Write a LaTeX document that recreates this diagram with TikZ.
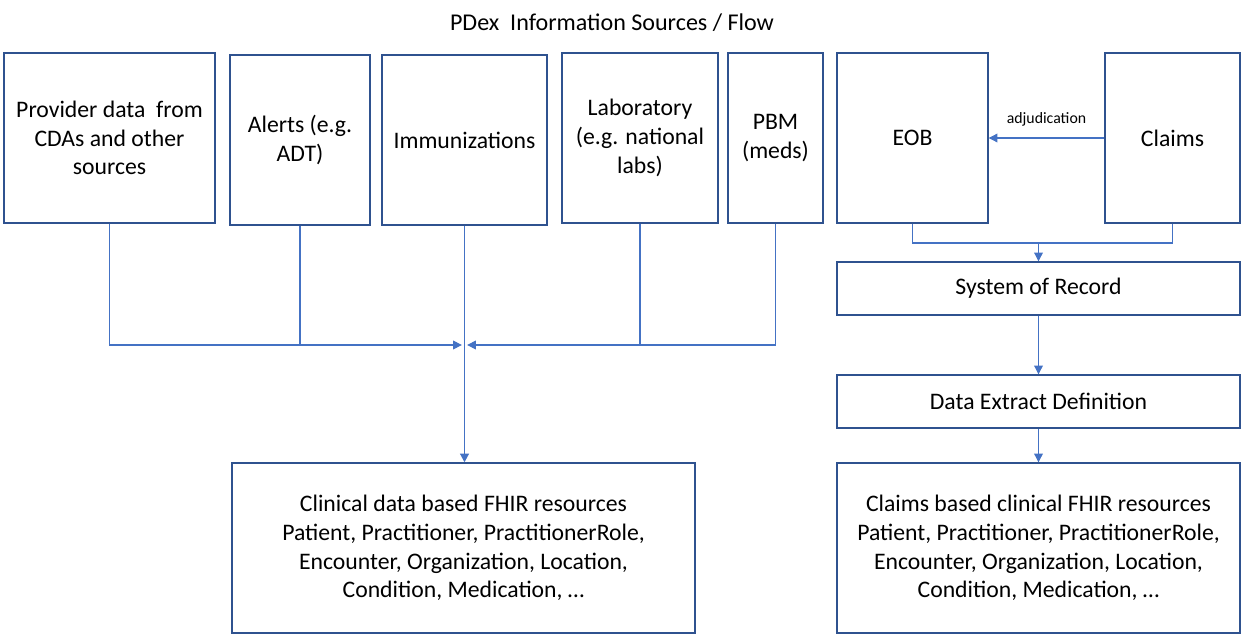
\documentclass[tikz,border=0pt]{standalone}
\usepackage{fontspec}
\setmainfont{Carlito}
\usetikzlibrary{arrows.meta}
\definecolor{boxline}{HTML}{2F528F}
\definecolor{flow}{HTML}{4472C4}
\begin{document}
\begin{tikzpicture}[x=0.02cm,y=-0.02cm]
    \useasboundingbox (0,0) rectangle (1241,635);
    \node[font=\fontsize{13.7}{16}\selectfont] (title) at (612,23) {PDex\ \ Information Sources / Flow};
    \begin{scope}[every node/.style={draw=boxline,line width=0.8pt,align=center,
        minimum height=3.4cm,font=\fontsize{13.5}{16.4}\selectfont}]
    \node[minimum width=4.22cm] (prov) at (109.5,138) {Provider data\ \ from\\CDAs and other\\sources};
    \node[minimum width=2.8cm] (alerts) at (300,140) {Alerts (e.g.\\ADT)};
    \node[minimum width=3.3cm] (immun) at (464.5,140) {Immunizations};
    \node[minimum width=3.12cm] (lab) at (640,138) {Laboratory\\(e.g. national\\labs)};
    \node[minimum width=1.9cm] (pbm) at (775.5,138) {PBM\\(meds)};
    \node[minimum width=3.02cm] (eob) at (912.5,138) {EOB};
    \node[minimum width=2.7cm] (claims) at (1172.5,138) {Claims};
    \node[minimum width=8.06cm,minimum height=1.06cm] (sor) at (1038.5,288.5) {System of Record};
    \node[minimum width=8.06cm,minimum height=1.06cm] (ded) at (1038.5,401.5) {Data Extract Definition};
    \node[minimum width=9.26cm] (clin) at (463.5,548) {Clinical data based FHIR resources\\Patient, Practitioner, PractitionerRole,\\Encounter, Organization, Location,\\Condition, Medication, \dots};
    \node[minimum width=8.06cm] (cfhir) at (1038.5,548) {Claims based clinical FHIR resources\\Patient, Practitioner, PractitionerRole,\\Encounter, Organization, Location,\\Condition, Medication, \dots};
    \end{scope}
    \coordinate (hub) at (immun.south |- 0,345);
    \coordinate (join) at (sor.north |- 0,243);
    \begin{scope}[flow,line width=0.6pt,>={Triangle[width=5pt,length=5pt]}]
    \draw[->] (prov.south) |- ([xshift=-1.5]hub);
    \draw (alerts.south) -- (alerts.south |- hub);
    \draw[->] (lab.south) |- ([xshift=1.5]hub);
    \draw (pbm.south) |- (lab.south |- hub);
    \draw[->,line width=1.1pt] (immun.south) -- (immun.south |- clin.north);
    \draw (eob.south) |- (join);
    \draw (claims.south) |- (join);
    \draw[->] (join) -- (sor.north);
    \draw[->] (sor.south) -- (ded.north);
    \draw[->] (ded.south) -- (cfhir.north);
    \path (claims.west) edge[->] node[above=3pt,black,font=\fontsize{9}{10}\selectfont] {adjudication} (eob.east);
    \end{scope}
\end{tikzpicture}
\end{document}
